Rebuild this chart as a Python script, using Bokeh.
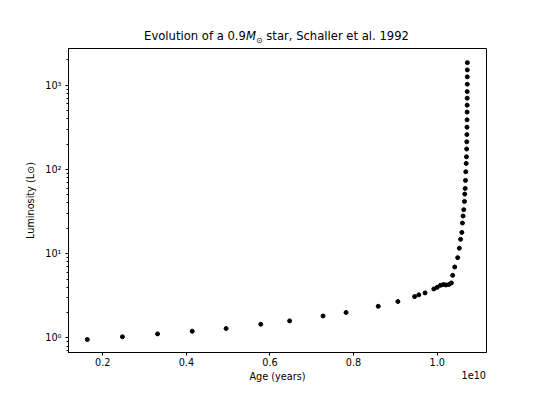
from bokeh.plotting import figure
from bokeh.models import Range1d, FixedTicker, Div
from bokeh.layouts import column
from bokeh.embed import file_html
from bokeh.resources import INLINE

# Age in years, luminosity in solar units
age_years = [1.63e9, 2.47e9, 3.31e9, 4.14e9, 4.95e9, 5.78e9, 6.47e9, 7.27e9, 7.82e9,
             8.59e9, 9.06e9, 9.46e9, 9.56e9, 9.71e9, 9.92e9, 1.000e10, 1.008e10,
             1.015e10, 1.021e10, 1.028e10, 1.034e10, 1.037e10, 1.042e10, 1.049e10,
             1.053e10, 1.056e10, 1.059e10, 1.0605e10, 1.062e10, 1.0636e10, 1.0653e10,
             1.066e10, 1.067e10, 1.0677e10, 1.0684e10, 1.0694e10, 1.0701e10, 1.0705e10,
             1.0708e10, 1.0711e10, 1.0713e10, 1.0715e10, 1.0716e10, 1.0717e10,
             1.0718e10, 1.0719e10, 1.0720e10, 1.0720e10, 1.0721e10, 1.0722e10]
luminosity = [0.955, 1.03, 1.115, 1.20, 1.29, 1.45, 1.59, 1.82, 2.00,
              2.37, 2.70, 3.09, 3.24, 3.42, 3.81, 3.98, 4.21,
              4.30, 4.25, 4.30, 4.49, 5.53, 6.95, 8.97,
              11.6, 14.8, 17.9, 23.1, 28.0, 33.3, 41.7,
              51.0, 59.5, 74.1, 94.0, 118, 141.5, 175,
              213, 260, 318, 389, 480, 581,
              703, 842, 1030, 1259, 1524, 1858]

x_ticks = [2e9, 4e9, 6e9, 8e9, 1e10]
x_tick_labels = ["0.2", "0.4", "0.6", "0.8", "1.0"]
y_ticks = [1, 10, 100, 1000]
y_tick_labels = ["10⁰", "10¹", "10²", "10³"]

FONT = "DejaVu Sans"
FS = "9.7px"

p = figure(width=540, height=340, output_backend="svg", toolbar_location=None,
           y_axis_type="log",
           x_range=Range1d(1.18e9, 1.118e10), y_range=Range1d(0.67, 2735),
           min_border_left=68, min_border_right=54, min_border_top=4,
           min_border_bottom=32, margin=0)
p.title.visible = False
p.xgrid.visible = False
p.ygrid.visible = False
p.outline_line_color = "black"
p.outline_line_alpha = 1.0
p.outline_line_width = 1
p.background_fill_color = "white"
p.border_fill_color = "white"

p.scatter(age_years, luminosity, size=4, color="black", line_color="black")

# x axis
xa = p.xaxis[0]
xa.ticker = FixedTicker(ticks=x_ticks)
xa.major_label_overrides = {t: l for t, l in zip(x_ticks, x_tick_labels)}
xa.axis_label = "Age (years)"
xa.major_tick_in = 0
xa.major_tick_out = 3
xa.major_label_standoff = 2
xa.axis_label_standoff = 2

# y axis
minor = [m * 10 ** e for e in range(-1, 4) for m in range(2, 10)]
ya = p.yaxis[0]
ya.ticker = FixedTicker(ticks=y_ticks, minor_ticks=minor)
ya.major_label_overrides = {t: l for t, l in zip(y_ticks, y_tick_labels)}
ya.axis_label = "Luminosity (L⊙)"
ya.major_tick_in = 0
ya.major_tick_out = 3
ya.minor_tick_in = 0
ya.minor_tick_out = 2
ya.major_label_standoff = 4
ya.axis_label_standoff = 6

for ax in (xa, ya):
    ax.axis_line_color = "black"
    ax.major_tick_line_color = "black"
    ax.minor_tick_line_color = "black" if ax is ya else None
    ax.major_label_text_font = FONT
    ax.major_label_text_font_size = FS
    ax.major_label_text_color = "black"
    ax.axis_label_text_font = FONT
    ax.axis_label_text_font_size = FS
    ax.axis_label_text_font_style = "normal"
    ax.axis_label_text_color = "black"

title = Div(
    text='Evolution of a 0.9<i>M</i><sub style="font-size:8px">⊙</sub> '
         'star, Schaller et al. 1992',
    width=540, height=44, margin=0,
    styles={"font-family": FONT, "font-size": "11.6px", "color": "black",
            "text-align": "center", "padding-left": "13px", "padding-top": "28px",
            "box-sizing": "border-box", "width": "540px", "white-space": "nowrap"})

# offset text of the x axis (scale factor 1e10), sits at the right end of the axis-label row
offset_text = Div(
    text="1e10", width=540, height=12, margin=0,
    styles={"font-family": FONT, "font-size": FS, "color": "black",
            "text-align": "right", "padding-right": "54px", "line-height": "12px",
            "box-sizing": "border-box", "width": "540px",
            "transform": "translateY(-14px)"})

layout = column(title, p, offset_text, spacing=0)
open("out.html", "w").write(file_html(layout, INLINE))
